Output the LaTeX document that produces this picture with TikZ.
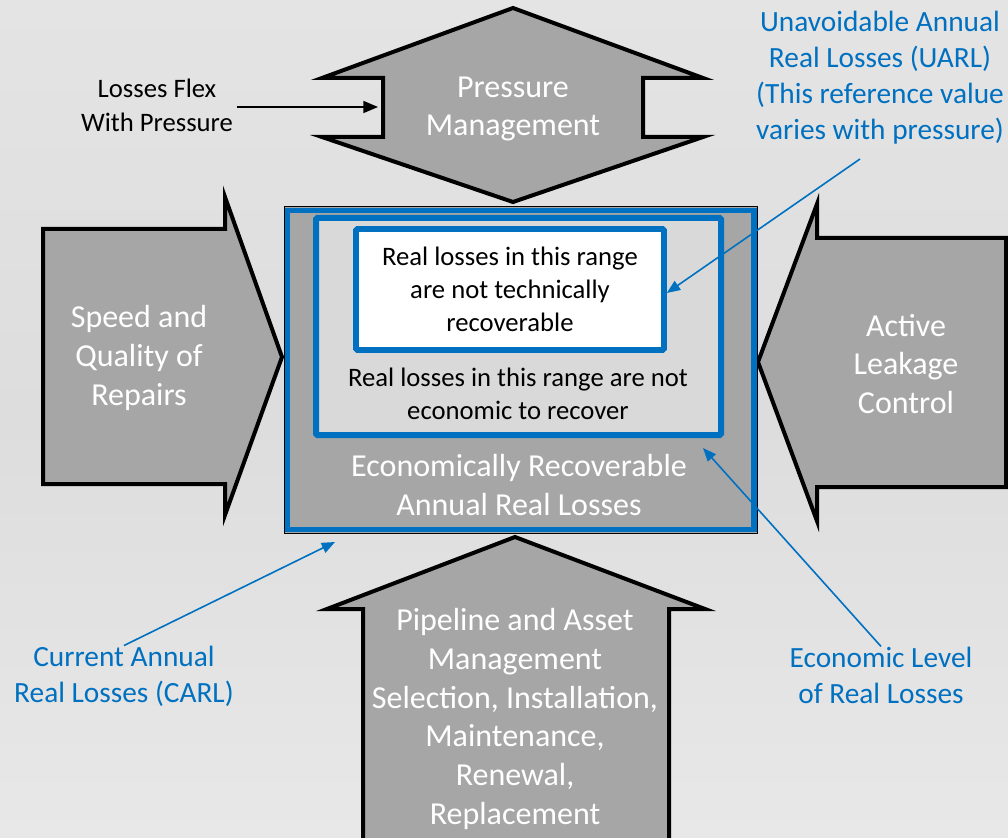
\documentclass[tikz,border=0pt]{standalone}
\usepackage{fontspec}
\setmainfont{Carlito}
\usetikzlibrary{positioning, calc, arrows.meta}
\definecolor{waterblue}{RGB}{0,112,192}
\definecolor{shapegray}{RGB}{166,166,166}
\definecolor{rangegray}{RGB}{217,217,217}
\definecolor{bgtop}{RGB}{228,228,228}
\definecolor{bgmid}{RGB}{221,221,221}
\definecolor{bgbot}{RGB}{232,232,232}
\tikzset{
  leverarrow/.style={draw=black, line width=3pt, fill=shapegray, line join=miter},
  levertext/.style={text=white, align=center, font=\fontsize{24}{29}\selectfont, inner sep=0pt},
  rangebox/.style={draw=waterblue, line width=4.5pt, rounded corners=1pt, inner sep=0pt},
  rangetext/.style={text=black, align=center, font=\fontsize{20}{24.5}\selectfont, inner sep=0pt},
  calloutlabel/.style={text=waterblue, align=center, font=\fontsize{22}{27}\selectfont, inner sep=0pt},
  callout/.style={draw=waterblue, line width=1.2pt, -{Triangle[length=10pt,width=8pt]}},
  flexarrow/.style={draw=black, line width=1.2pt, -{Triangle[length=11pt,width=9pt]}}
}

\begin{document}
\begin{tikzpicture}[x=0.75pt, y=-0.75pt]
  \useasboundingbox (0,0) rectangle (1008,838);
  \shade[top color=bgtop, bottom color=bgbot, middle color=bgmid] (0,0) rectangle (1008,838);
  \clip (0,0) rectangle (1008,838);

  % the four levers round the losses box
  \draw[leverarrow] (513,8) -- (703,78) -- (643,78) -- (643,137) -- (703,137) -- (513,202)
    -- (322,137) -- (383,137) -- (383,78) -- (322,78) -- cycle;
  \draw[leverarrow] (43,229) -- (225,229) -- (225,197) -- (282,357) -- (225,515) -- (225,484)
    -- (43,484) -- cycle;
  \draw[leverarrow] (1006,238) -- (817,238) -- (817,204) -- (758,362) -- (817,521) -- (817,487)
    -- (1006,487) -- cycle;
  \draw[leverarrow] (515,537) -- (705,609) -- (669,609) -- (669,850) -- (363,850) -- (363,609)
    -- (327,609) -- cycle;
  \node[levertext] (pm) at (513,109) {Pressure\\Management};
  \node[levertext] (speed) at (139,358) {Speed and\\Quality of\\Repairs};
  \node[levertext] (alc) at (906,364) {Active\\Leakage\\Control};
  \node[levertext] (pipe) at (515,719) {Pipeline and Asset\\Management\\Selection, Installation,\\Maintenance,\\Renewal,\\Replacement};

  % nested loss ranges
  \node[draw=black, line width=0.75pt, fill=shapegray, minimum width=354.75pt,
    minimum height=244.5pt, inner sep=0pt] (carlbox) at (520.5,370) {};
  \node[draw=waterblue, line width=4pt, minimum width=350pt,
    minimum height=239.7pt, inner sep=0pt] (carlrim) at (520.5,370) {};
  \node[rangebox, fill=rangegray, minimum width=303.75pt, minimum height=162.75pt] (elrbox) at (518.5,326.5) {};
  \node[rangebox, line width=4.25pt, fill=white, minimum width=231pt, minimum height=90.75pt,
    rangetext] (tech) at (510,289.5) {Real losses in this range\\are not technically\\recoverable};
  \node[rangetext] (econtxt) at (518,394) {Real losses in this range are not\\economic to recover};
  \node[levertext] (recov) at (519,485) {Economically Recoverable\\Annual Real Losses};

  % labels and their pointers
  \node[rangetext, font=\fontsize{20}{25.5}\selectfont] (flex) at (157,105) {Losses Flex\\With Pressure};
  \coordinate (pmnotch) at (378,107);
  \draw[flexarrow] (flex.east |- pmnotch) ++(4,0) -- (pmnotch);

  \node[calloutlabel] (uarl) at (880,78) {Unavoidable Annual\\Real Losses (UARL)\\(This reference value\\varies with pressure)};
  \coordinate (uarlfoot) at (860,159);
  \draw[callout] (uarlfoot) -- ([yshift=-2.6pt]tech.east);

  \node[calloutlabel] (carl) at (124,676) {Current Annual\\Real Losses (CARL)};
  \coordinate (carltip) at (335,542);
  \draw[callout] (carl.north) -- (carltip);

  \node[calloutlabel] (econ) at (881,675) {Economic Level\\of Real Losses};
  \coordinate (elrtip) at (703,448);
  \draw[callout] (econ.north) -- (elrtip);
\end{tikzpicture}
\end{document}
